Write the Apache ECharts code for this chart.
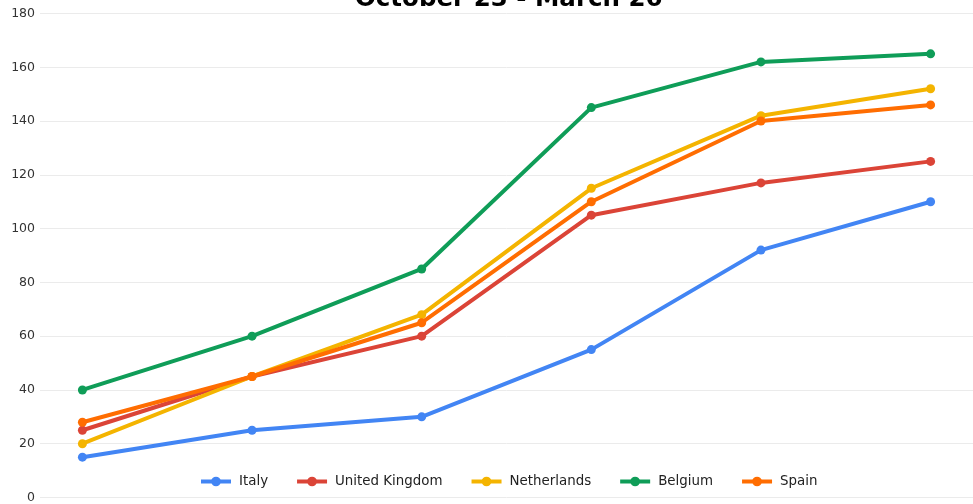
<!DOCTYPE html>
<html><head><meta charset="utf-8">
<script src="https://cdn.jsdelivr.net/npm/echarts@6/dist/echarts.min.js"></script>
<style>html,body{margin:0;padding:0;background:#fff}#c{width:973px;height:504px}</style>
</head><body><div id="c"></div>
<script>
var titleText = 'October 23 - March 26';
var categories = ['1', '2', '3', '4', '5', '6'];
var seriesNames = ['Italy', 'United Kingdom', 'Netherlands', 'Belgium', 'Spain'];
var italy = [15, 25, 30, 55, 92, 110];
var unitedKingdom = [25, 45, 60, 105, 117, 125];
var netherlands = [20, 45, 68, 115, 142, 152];
var belgium = [40, 60, 85, 145, 162, 165];
var spain = [28, 45, 65, 110, 140, 146];
var colors = ['#4285F4', '#DB4437', '#F4B400', '#0F9D58', '#FF6D01'];

var allData = [italy, unitedKingdom, netherlands, belgium, spain];
var chart = echarts.init(document.getElementById('c'));
chart.setOption({
  animation: false,
  color: colors,
  textStyle: {fontFamily: 'DejaVu Sans'},
  title: {text: titleText, left: 350, top: -18,
    textStyle: {fontFamily: 'DejaVu Sans', fontWeight: 'bold', fontSize: 24.5, color: '#000'}},
  legend: {bottom: 11, left: 194, itemGap: 27, itemWidth: 30, itemHeight: 12,
    lineStyle: {width: 4},
    textStyle: {fontFamily: 'DejaVu Sans', fontSize: 13.4, color: '#222', padding: [0, 0, 0, 3]},
    data: seriesNames},
  grid: {left: 40, right: 0, top: 13.5, bottom: 3.2, containLabel: false},
  xAxis: {type: 'value', min: -0.25, max: categories.length - 0.75,
    axisLine: {show: false}, axisTick: {show: false}, axisLabel: {show: false}, splitLine: {show: false}},
  yAxis: {type: 'value', min: 0, max: 180, interval: 20,
    axisLine: {show: false}, axisTick: {show: false},
    axisLabel: {fontFamily: 'DejaVu Sans', fontSize: 12.5, color: '#333', margin: 5},
    splitLine: {lineStyle: {color: '#ebebeb'}}},
  series: seriesNames.map(function (n, k) {
    return {name: n, type: 'line', symbol: 'circle', symbolSize: 9,
      lineStyle: {width: 4},
      data: allData[k].map(function (v, i) { return [i, v]; })};
  })
});
</script></body></html>
